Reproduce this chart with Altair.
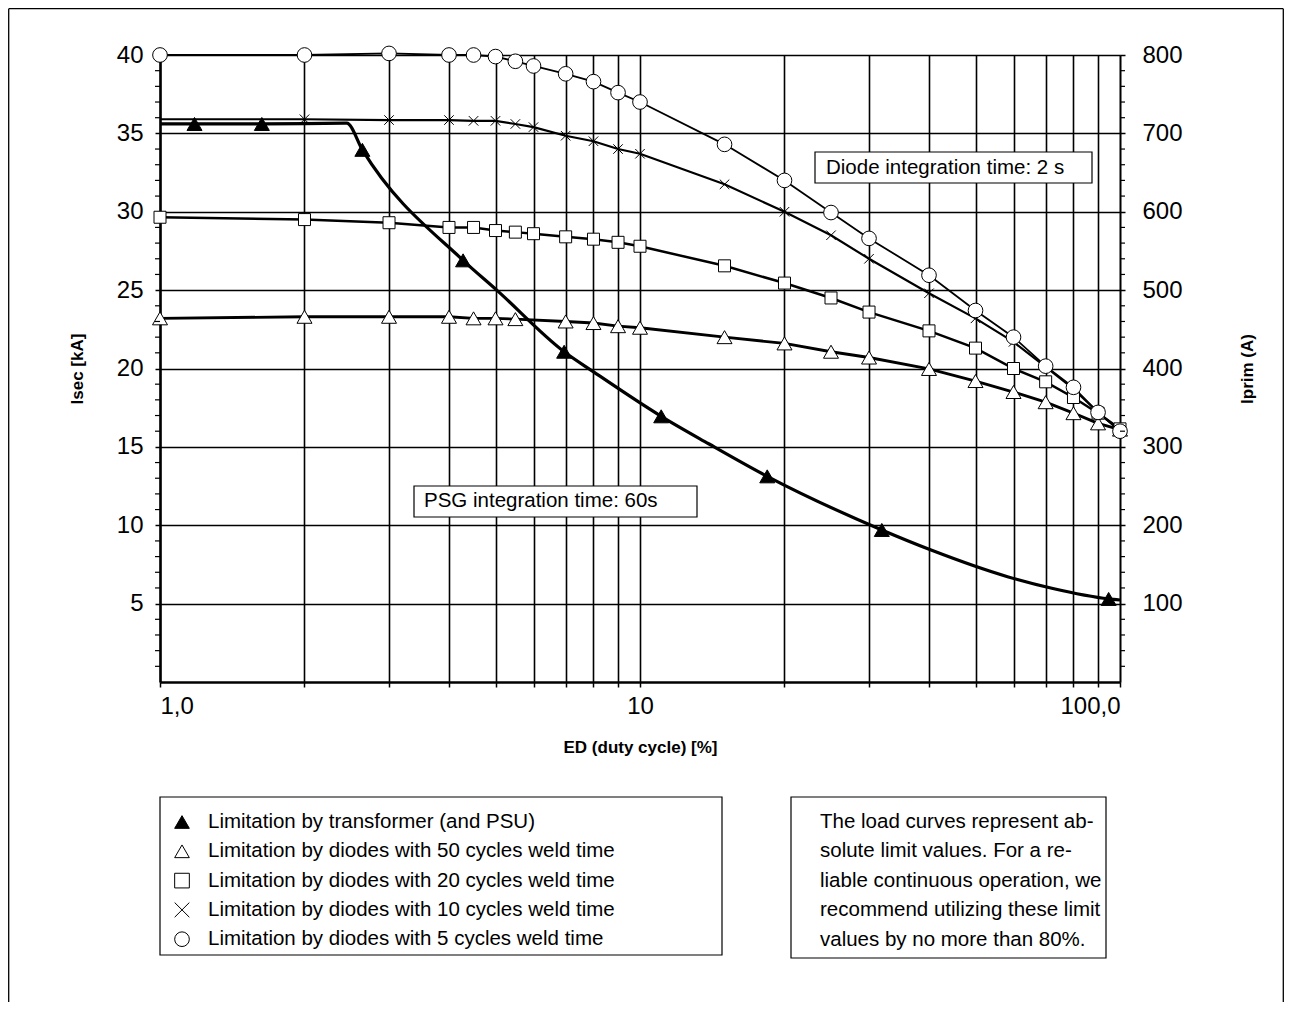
import altair as alt
import pandas as pd

SERIES = [
    "Limitation by transformer (and PSU)",
    "Limitation by diodes with 50 cycles weld time",
    "Limitation by diodes with 20 cycles weld time",
    "Limitation by diodes with 10 cycles weld time",
    "Limitation by diodes with 5 cycles weld time",
]

# transformer curve (marker=1 where a filled triangle is drawn)
tr_ed = [1.0, 1.18, 1.63, 2.45, 2.64, 4.28, 5.03, 6.95, 7.99, 11.07, 13.9, 18.41, 31.9, 40.4, 58.3, 72.1, 94.7, 100.0]
tr_isec = [35.6, 35.6, 35.6, 35.65, 33.95, 26.9, 25.0, 21.07, 19.8, 16.95, 15.2, 13.12, 9.7, 8.42, 6.72, 5.98, 5.3, 5.23]
tr_marker = [0, 1, 1, 0, 1, 1, 0, 1, 0, 1, 0, 1, 1, 0, 0, 0, 1, 0]

ed_50 = [1, 2, 3, 4, 4.5, 5, 5.5, 7, 8, 9, 10, 15, 20, 25, 30, 40, 50, 60, 70, 80, 90, 100]
isec_50 = [23.2, 23.3, 23.3, 23.3, 23.2, 23.2, 23.15, 23.0, 22.9, 22.7, 22.6, 22.0, 21.6, 21.07, 20.7,
           19.97, 19.2, 18.5, 17.85, 17.15, 16.5, 16.1]

ed_20 = [1, 2, 3, 4, 4.5, 5, 5.5, 6, 7, 8, 9, 10, 15, 20, 25, 30, 40, 50, 60, 70, 80, 90, 100]
isec_20 = [29.65, 29.5, 29.3, 29.0, 29.0, 28.8, 28.7, 28.6, 28.4, 28.25, 28.05, 27.8, 26.55, 25.45, 24.5,
           23.6, 22.4, 21.3, 20.0, 19.15, 18.15, 17.15, 16.15]

ed_10 = [1, 2, 3, 4, 4.5, 5, 5.5, 6, 7, 8, 9, 10, 15, 20, 25, 30, 40, 50, 60, 70, 80, 90, 100]
isec_10 = [35.9, 35.9, 35.85, 35.85, 35.8, 35.8, 35.6, 35.4, 34.85, 34.5, 34.0, 33.7, 31.75, 30.0, 28.5,
           27.0, 24.8, 23.2, 21.7, 20.1, 18.7, 17.2, 16.05]
mark_10 = [0] + [1] * 22

ed_5 = [1, 2, 3, 4, 4.5, 5, 5.5, 6, 7, 8, 9, 10, 15, 20, 25, 30, 40, 50, 60, 70, 80, 90, 100]
isec_5 = [40.0, 40.0, 40.1, 40.0, 40.0, 39.9, 39.6, 39.3, 38.8, 38.3, 37.6, 37.0, 34.3, 32.0, 29.95,
          28.3, 25.95, 23.7, 22.0, 20.15, 18.8, 17.2, 16.0]

X_TICKS = [1, 2, 3, 4, 5, 6, 7, 8, 9, 10, 20, 30, 40, 50, 60, 70, 80, 90, 100]
Y_TICKS = [5, 10, 15, 20, 25, 30, 35, 40]
Y2_TICKS = [100, 200, 300, 400, 500, 600, 700, 800]
Y_MINOR = [v for v in range(1, 40) if v % 5 != 0]
Y2_MINOR = [v for v in range(20, 800, 20) if v % 100 != 0]

DIODE_NOTE = "Diode integration time: 2 s"
PSG_NOTE = "PSG integration time: 60s"
NOTE_LINES = [
    "The load curves represent ab-",
    "solute limit values. For a re-",
    "liable continuous operation, we",
    "recommend utilizing these limit",
    "values by no more than 80%.",
]

FONT = "Liberation Sans"

rows = []
for e, v, m in zip(tr_ed, tr_isec, tr_marker):
    rows.append({"ED": e, "Isec": v, "series": SERIES[0], "marker": m})
for name, eds, vals, mk in [(SERIES[1], ed_50, isec_50, [1] * len(ed_50)),
                            (SERIES[2], ed_20, isec_20, [1] * len(ed_20)),
                            (SERIES[3], ed_10, isec_10, mark_10),
                            (SERIES[4], ed_5, isec_5, [1] * len(ed_5))]:
    for e, v, m in zip(eds, vals, mk):
        rows.append({"ED": e, "Isec": v, "series": name, "marker": m})
df = pd.DataFrame(rows)

xenc = alt.X(
    "ED:Q",
    scale=alt.Scale(type="log", domain=[1, 100], nice=False),
    axis=alt.Axis(
        values=X_TICKS,
        labelExpr="datum.value == 1 ? '1,0' : datum.value == 10 ? '10' : datum.value == 100 ? '100,0' : ''",
        labelFlush=True, labelOverlap=False,
        labelFontSize=24, labelPadding=7,
        tickSize=5, tickWidth=1.5,
        grid=True, gridWidth=1.6,
        domainWidth=2.5,
        title="ED (duty cycle) [%]", titleFontSize=17, titleFontWeight="bold", titlePadding=21,
    ),
)
yenc = alt.Y(
    "Isec:Q",
    scale=alt.Scale(domain=[0, 40], nice=False, zero=True),
    axis=alt.Axis(
        values=Y_TICKS, labelFontSize=24, labelPadding=12,
        tickSize=5, tickWidth=1.5,
        grid=True, gridWidth=1.6, domainWidth=2.5,
        title="Isec [kA]", titleFontSize=17, titleFontWeight="bold", titlePadding=30,
    ),
)

shape_scale = alt.Scale(domain=SERIES, range=["triangle-up", "triangle-up", "square", "M-1,-1L1,1M-1,1L1,-1", "circle"])
fill_scale = alt.Scale(domain=SERIES, range=["black", "white", "white", "white", "white"])

base = alt.Chart(df)

tr_line = base.transform_filter(alt.datum.series == SERIES[0]).mark_line(
    color="black", strokeWidth=3.2, interpolate="monotone"
).encode(x=xenc, y=yenc)

diode_lines = base.transform_filter(alt.datum.series != SERIES[0]).mark_line(
    color="black"
).encode(
    x=xenc, y=yenc, detail="series:N",
    strokeWidth=alt.StrokeWidth("series:N", scale=alt.Scale(domain=SERIES, range=[3.2, 1.8, 1.8, 1.0, 1.8]),
                                legend=None),
)

size_rule = (
    alt.when(alt.datum.series == SERIES[2]).then(alt.value(144))
    .when(alt.datum.series == SERIES[3]).then(alt.value(90))
    .when(alt.datum.series == SERIES[4]).then(alt.value(215))
    .otherwise(alt.value(225))
)
points = base.transform_filter(alt.datum.marker == 1).mark_point(
    filled=True, opacity=1, stroke="black", strokeWidth=1
).encode(
    x=xenc, y=yenc,
    shape=alt.Shape("series:N", scale=shape_scale, legend=None),
    fill=alt.Fill("series:N", scale=fill_scale, legend=None),
    size=size_rule,
)

minor_left = alt.Chart(pd.DataFrame({"Isec": Y_MINOR})).mark_rule(color="black", strokeWidth=1.2).encode(
    y=yenc, x=alt.value(-5), x2=alt.value(0)
)

one = alt.Data(values=[{}])


def box(x1, y1, x2, y2):
    return alt.Chart(one).mark_rect(fill="white", stroke="black", strokeWidth=1.2).encode(
        x=alt.value(x1), x2=alt.value(x2), y=alt.value(y1), y2=alt.value(y2)
    )


def label(txt, x, y, **kw):
    return alt.Chart(one).mark_text(
        text=txt, font=FONT, fontSize=20.5, color="black", align="left", baseline="middle", **kw
    ).encode(x=alt.value(x), y=alt.value(y))


# legend (inside its framed box below the plot)
legend_layers = []
for i, s in enumerate(SERIES):
    ly = 767 + i * 29.3
    sd = alt.Data(values=[{"series": s}])
    legend_layers.append(
        alt.Chart(sd).mark_point(filled=True, opacity=1, stroke="black", strokeWidth=1, size=215).encode(
            x=alt.value(22), y=alt.value(ly),
            shape=alt.Shape("series:N", scale=shape_scale, legend=None),
            fill=alt.Fill("series:N", scale=fill_scale, legend=None),
        )
    )
    legend_layers.append(
        alt.Chart(sd).mark_text(font=FONT, fontSize=20.5, color="black", align="left", baseline="middle").encode(
            x=alt.value(48), y=alt.value(ly), text="series:N"
        )
    )

diode_box = box(655, 97, 932, 128)
diode_txt = label(DIODE_NOTE, 666, 113)
psg_box = box(254, 431, 537, 462)
psg_txt = label(PSG_NOTE, 264, 446)
legend_box = box(0, 742, 562, 900)
note_box = box(631, 742, 946, 903)
note_txt = label(NOTE_LINES, 660, 767, lineHeight=29.4)


def rule(x1, y1, x2, y2, w=1.3):
    return alt.Chart(one).mark_rule(color="black", strokeWidth=w).encode(
        x=alt.value(x1), x2=alt.value(x2), y=alt.value(y1), y2=alt.value(y2)
    )


frame = [rule(-151.3, -46.3, -151.3, 947), rule(-151.3, -46.3, 1123.3, -46.3), rule(1123.3, -46.3, 1123.3, 947)]

left = alt.layer(
    legend_box, note_box,
    diode_lines, tr_line, points, minor_left,
    diode_box, diode_txt, psg_box, psg_txt, note_txt,
    *legend_layers,
    *frame,
)

right = alt.Chart(pd.DataFrame({"Iprim": Y2_MINOR})).mark_rule(color="black", strokeWidth=1.2).encode(
    y=alt.Y(
        "Iprim:Q",
        scale=alt.Scale(domain=[0, 800], nice=False, zero=True),
        axis=alt.Axis(
            orient="right", values=Y2_TICKS, labelFontSize=24, labelPadding=17,
            tickSize=5, tickWidth=1.5, grid=False, domainWidth=1.6,
            title="Iprim (A)", titleFontSize=17, titleFontWeight="bold", titleAngle=270, titlePadding=74,
        ),
    ),
    x=alt.value(960), x2=alt.value(965),
)

chart = alt.layer(left, right).resolve_scale(y="independent").properties(
    width=960, height=627,
    padding={"left": 152, "top": 47, "right": 164, "bottom": 320},
    autosize=alt.AutoSizeParams(type="none"),
    background="white",
).configure_view(stroke=None).configure_axis(
    labelFont=FONT, titleFont=FONT, labelColor="black", titleColor="black",
    domainColor="black", tickColor="black", gridColor="black", gridOpacity=1,
)

chart.save("out.html", embed_options={"renderer": "svg", "actions": False})
